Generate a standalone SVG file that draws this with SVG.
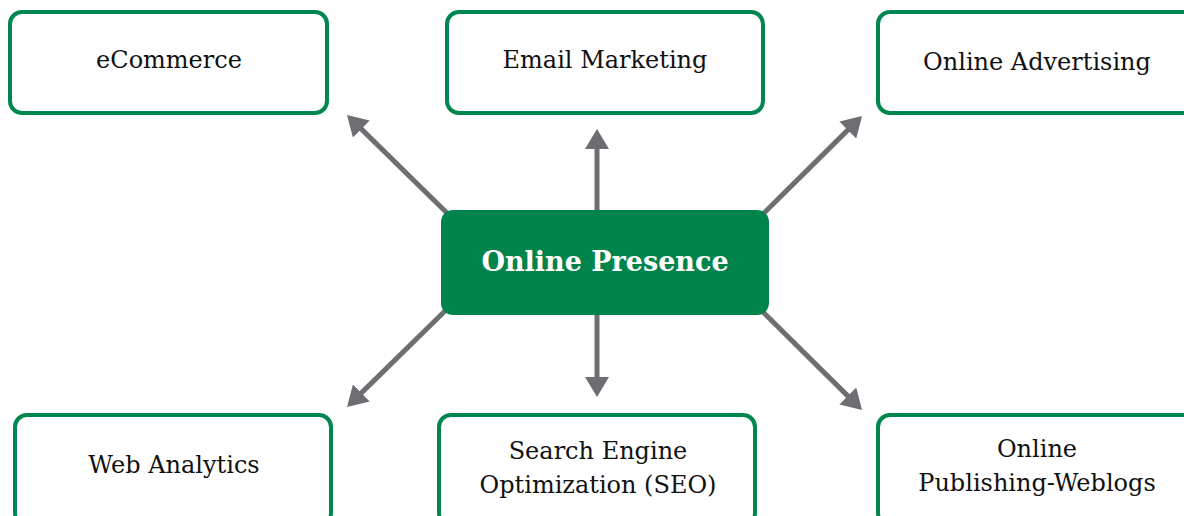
<svg xmlns="http://www.w3.org/2000/svg" width="1184" height="516" viewBox="0 0 1184 516">
<style>
.box{fill:#ffffff;stroke:#00874f;stroke-width:4}
.hub{fill:#00844c}
.lbl{font-family:"DejaVu Serif","Liberation Serif",serif;font-size:24px;fill:#111111;text-anchor:middle}
.hubtxt{font-family:"DejaVu Serif","Liberation Serif",serif;font-size:27px;font-weight:bold;fill:#ffffff;text-anchor:middle}
.conn{stroke:#6d6e71;stroke-width:5;fill:none;marker-end:url(#arr)}
</style>
<defs>
<marker id="arr" viewBox="0 0 20 24" refX="8" refY="12" markerWidth="20" markerHeight="24" markerUnits="userSpaceOnUse" orient="auto">
<path d="M0,0 L20,12 L0,24 Z" fill="#6d6e71"/>
</marker>
</defs>
<rect width="1184" height="516" fill="#ffffff"/>
<g id="connectors">
<line class="conn" x1="597" y1="212" x2="597" y2="141"/>
<line class="conn" x1="597" y1="313" x2="597" y2="385"/>
<line class="conn" x1="448" y1="214" x2="355.6" y2="123.4"/>
<line class="conn" x1="763" y1="214" x2="853.5" y2="124.4"/>
<line class="conn" x1="446" y1="310" x2="355.6" y2="398.6"/>
<line class="conn" x1="762" y1="311" x2="853.5" y2="401.6"/>
</g>
<g id="node-ecommerce">
<rect class="box" x="10" y="12" width="317" height="101" rx="12"/>
<text class="lbl" x="169" y="68">eCommerce</text>
</g>
<g id="node-email">
<rect class="box" x="447" y="12" width="316" height="101" rx="12"/>
<text class="lbl" x="605" y="68">Email Marketing</text>
</g>
<g id="node-advertising">
<rect class="box" x="878" y="12" width="320" height="101" rx="12"/>
<text class="lbl" x="1037" y="70">Online Advertising</text>
</g>
<g id="node-center">
<rect class="hub" x="441" y="210" width="328" height="105" rx="12"/>
<text class="hubtxt" x="605" y="271">Online Presence</text>
</g>
<g id="node-analytics">
<rect class="box" x="15" y="415" width="316" height="110" rx="12"/>
<text class="lbl" x="174" y="473">Web Analytics</text>
</g>
<g id="node-seo">
<rect class="box" x="439" y="415" width="316" height="110" rx="12"/>
<text class="lbl" x="598" y="459">Search Engine</text>
<text class="lbl" x="598" y="493">Optimization (SEO)</text>
</g>
<g id="node-publishing">
<rect class="box" x="878" y="415" width="320" height="110" rx="12"/>
<text class="lbl" x="1037" y="457">Online</text>
<text class="lbl" x="1037" y="491">Publishing-Weblogs</text>
</g>
</svg>
